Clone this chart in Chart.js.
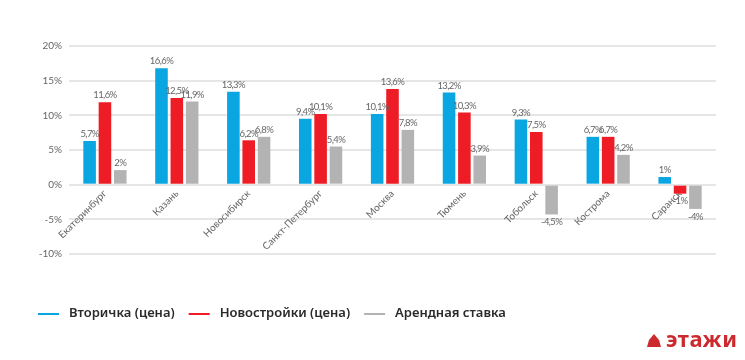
<!DOCTYPE html>
<html>
<head>
<meta charset="utf-8">
<script src="https://cdn.jsdelivr.net/npm/chart.js@4.4.1/dist/chart.umd.min.js"></script>
<style>
    html, body { margin: 0; padding: 0; background: #fff; }
    #wrap { position: relative; width: 745px; height: 360px; }
</style>
</head>
<body>
<div id="wrap"><canvas id="priceChart"></canvas></div>
<script>
// Cities and yearly change, % (bar heights)
const cities = ['Екатеринбург', 'Казань', 'Новосибирск', 'Санкт-Петербург', 'Москва', 'Тюмень', 'Тобольск', 'Кострома', 'Саранск'];
const seriesNames = ['Вторичка (цена)', 'Новостройки (цена)', 'Арендная ставка'];

const resaleValues = [6.3, 16.8, 13.4, 9.5, 10.2, 13.3, 9.4, 6.9, 1.1];
const newBuildValues = [11.9, 12.5, 6.4, 10.2, 13.8, 10.4, 7.6, 6.9, -1.3];
const rentValues = [2.1, 12.0, 6.9, 5.5, 7.9, 4.2, -4.3, 4.3, -3.5];

// Printed value labels, as written on the chart
const resaleLabels = ['5,7%', '16,6%', '13,3%', '9,4%', '10,1%', '13,2%', '9,3%', '6,7%', '1%'];
const newBuildLabels = ['11,6%', '12,5%', '6,2%', '10,1%', '13,6%', '10,3%', '7,5%', '6,7%', '-1%'];
const rentLabels = ['2%', '11,9%', '6,8%', '5,4%', '7,8%', '3,9%', '-4,5%', '4,2%', '-4%'];

const yTicks = [-10, -5, 0, 5, 10, 15, 20];

const colors = ['#0aa6e2', '#ee1c25', '#b3b3b3'];
const valueLabels = [resaleLabels, newBuildLabels, rentLabels];

// Value labels above / below bars, legend and logo
const extrasPlugin = {
    id: 'extras',
    afterDatasetsDraw(chart) {
        const ctx = chart.ctx;
        ctx.save();
        ctx.font = '9.5px Lato';
        ctx.letterSpacing = '-0.6px';
        ctx.fillStyle = '#666';
        ctx.textAlign = 'center';
        chart.data.datasets.forEach((ds, di) => {
            const meta = chart.getDatasetMeta(di);
            meta.data.forEach((bar, i) => {
                const text = valueLabels[di][i];
                if (ds.data[i] >= 0) {
                    ctx.textBaseline = 'bottom';
                    ctx.fillText(text, bar.x, bar.y - 2);
                } else {
                    ctx.textBaseline = 'top';
                    ctx.fillText(text, bar.x, bar.y + 3);
                }
            });
        });
        ctx.restore();
    },
    afterDraw(chart) {
        const ctx = chart.ctx;
        ctx.save();
        // legend
        let x = 38;
        const y = 314;
        ctx.font = '600 13px "Noto Sans"';
        ctx.textBaseline = 'middle';
        ctx.textAlign = 'left';
        chart.data.datasets.forEach(ds => {
            ctx.strokeStyle = ds.backgroundColor;
            ctx.lineWidth = 2;
            ctx.beginPath();
            ctx.moveTo(x, y);
            ctx.lineTo(x + 21, y);
            ctx.stroke();
            x += 31;
            ctx.fillStyle = '#2a2a2a';
            ctx.fillText(ds.label, x, y - 1);
            x += ctx.measureText(ds.label).width + 14;
        });
        // logo
        ctx.fillStyle = '#cc2a2e';
        ctx.beginPath();
        ctx.moveTo(647, 347);
        ctx.lineTo(649, 340);
        ctx.lineTo(654, 334);
        ctx.lineTo(659, 340);
        ctx.lineTo(661, 347);
        ctx.closePath();
        ctx.fill();
        ctx.font = 'bold 22px "Noto Sans"';
        ctx.letterSpacing = '0.5px';
        ctx.textBaseline = 'alphabetic';
        ctx.fillText('этажи', 666, 347);
        ctx.restore();
    }
};

new Chart(document.getElementById('priceChart'), {
    type: 'bar',
    data: {
        labels: cities,
        datasets: [
            { label: seriesNames[0], data: resaleValues, backgroundColor: colors[0] },
            { label: seriesNames[1], data: newBuildValues, backgroundColor: colors[1] },
            { label: seriesNames[2], data: rentValues, backgroundColor: colors[2] }
        ]
    },
    options: {
        responsive: true,
        maintainAspectRatio: false,
        animation: false,
        layout: {
            padding: { left: 0, right: 29, top: 46, bottom: 106 }
        },
        datasets: {
            bar: {
                categoryPercentage: 0.64,
                barPercentage: 0.82
            }
        },
        plugins: {
            legend: { display: false },
            tooltip: { enabled: false }
        },
        scales: {
            x: {
                position: { y: 0 },
                grid: { display: false, drawTicks: false },
                border: { display: false },
                ticks: {
                    autoSkip: false,
                    minRotation: 45,
                    maxRotation: 45,
                    padding: 3,
                    color: '#666',
                    font: { family: 'Lato', size: 10 }
                }
            },
            y: {
                min: yTicks[0],
                max: yTicks[yTicks.length - 1],
                afterBuildTicks: scale => {
                    scale.ticks = yTicks.map(v => ({ value: v }));
                },
                afterFit: scale => {
                    scale.width = 69;
                },
                grid: { color: '#e6e6e6', lineWidth: 2, drawTicks: false },
                border: { display: false },
                ticks: {
                    padding: 7,
                    color: '#666',
                    font: { family: 'Lato', size: 10 },
                    callback: v => v + '%'
                }
            }
        }
    },
    plugins: [extrasPlugin]
});
</script>
</body>
</html>
